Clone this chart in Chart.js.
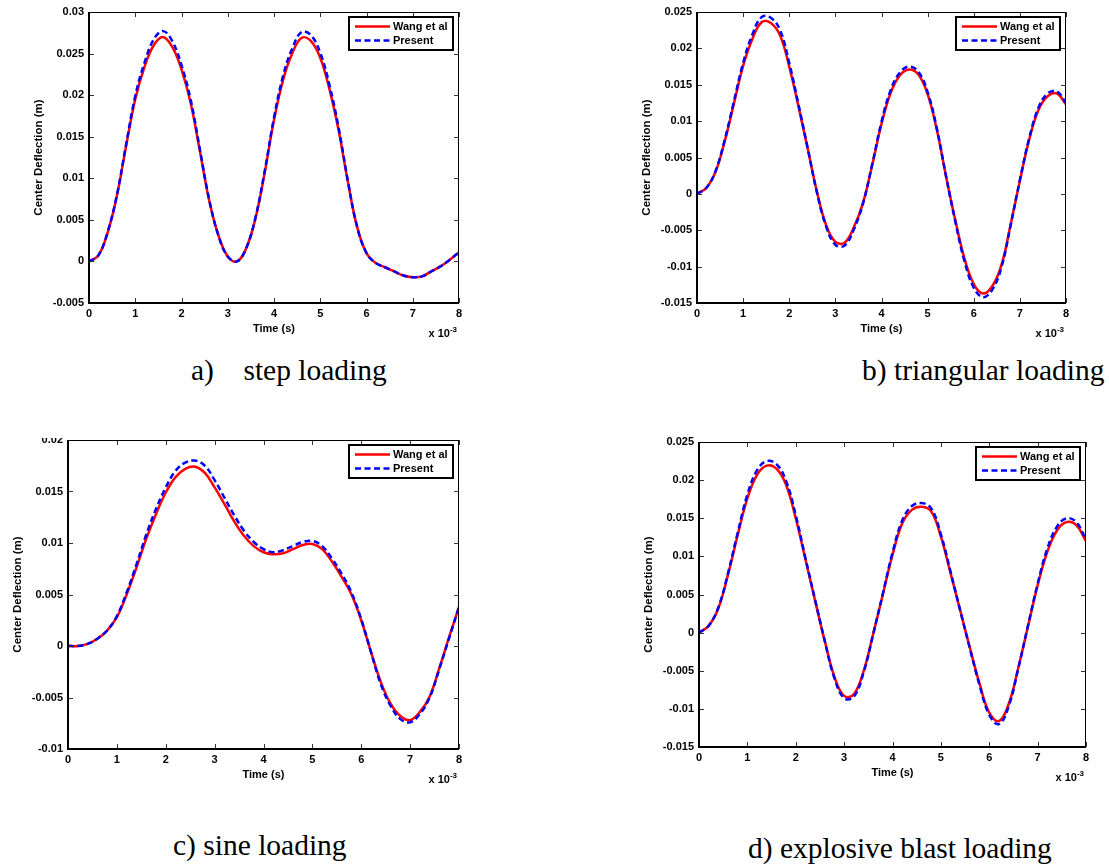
<!DOCTYPE html>
<html>
<head>
<meta charset="utf-8">
<title>Center deflection under four loadings</title>
<script src="https://cdn.jsdelivr.net/npm/chart.js@4.4.0/dist/chart.umd.min.js"></script>
<style>
  body { margin: 0; background: #fff; width: 1109px; height: 866px; position: relative; overflow: hidden; }
  canvas { position: absolute; }
  .caption {
    position: absolute;
    font-family: "Liberation Serif", "Times New Roman", serif;
    font-size: 30px;
    line-height: 30px;
    white-space: pre;
    color: #000;
    transform: scaleX(0.983);
    transform-origin: left center;
  }
</style>
</head>
<body>
<canvas id="chartA"></canvas>
<canvas id="chartB"></canvas>
<canvas id="chartC"></canvas>
<canvas id="chartD"></canvas>

<div class="caption" style="left:191px; top:355px;">a)    step loading</div>
<div class="caption" style="left:862px; top:355px;">b) triangular loading</div>
<div class="caption" style="left:173px; top:830px;">c) sine loading</div>
<div class="caption" style="left:748px; top:833px;">d) explosive blast loading</div>

<script>
// time axis in ms (axis is labelled x 10^-3 s)
const timeMs = [0, 0.2, 0.4, 0.6, 0.8, 1, 1.2, 1.4, 1.6, 1.8, 2, 2.2, 2.4, 2.6, 2.8, 3, 3.2, 3.4, 3.6, 3.8,
                4, 4.2, 4.4, 4.6, 4.8, 5, 5.2, 5.4, 5.6, 5.8, 6, 6.2, 6.4, 6.6, 6.8, 7, 7.2, 7.4, 7.6, 7.8, 8];

const seriesNames = ['Wang et al', 'Present'];
const timeTicks = ['0', '1', '2', '3', '4', '5', '6', '7', '8'];

// a) step loading, center deflection (m)
const stepWang = [0, 0.0007, 0.0034, 0.0078, 0.0138, 0.0195, 0.0234, 0.0260, 0.0270, 0.0258,
                  0.0231, 0.0190, 0.0132, 0.0073, 0.0031, 0.0006, 0.0000, 0.0016, 0.0052, 0.0107,
                  0.0170, 0.0219, 0.0251, 0.0269, 0.0265, 0.0245, 0.0207, 0.0157, 0.0095, 0.0041,
                  0.0010, -0.0002, -0.0007, -0.0012, -0.0017, -0.0019, -0.0018, -0.0012, -0.0006, 0.0002, 0.0011];
const stepPresent = [0, 0.0007, 0.0035, 0.0079, 0.0140, 0.0199, 0.0239, 0.0267, 0.0277, 0.0265,
                     0.0236, 0.0194, 0.0134, 0.0074, 0.0031, 0.0006, 0.0000, 0.0016, 0.0053, 0.0109,
                     0.0173, 0.0224, 0.0257, 0.0276, 0.0272, 0.0251, 0.0212, 0.0160, 0.0096, 0.0041,
                     0.0010, -0.0002, -0.0007, -0.0012, -0.0017, -0.0019, -0.0018, -0.0012, -0.0006, 0.0002, 0.0011];

// b) triangular loading
const triWang = [0, 0.0008, 0.0030, 0.0072, 0.0124, 0.0176, 0.0213, 0.0236, 0.0235, 0.0218,
                 0.0175, 0.0120, 0.0062, 0.0003, -0.0043, -0.0066, -0.0067, -0.0046, -0.0012, 0.0040,
                 0.0096, 0.0139, 0.0163, 0.0171, 0.0164, 0.0137, 0.0088, 0.0024, -0.0036, -0.0089,
                 -0.0124, -0.0137, -0.0127, -0.0098, -0.0042, 0.0018, 0.0074, 0.0115, 0.0134, 0.0138, 0.0123];
const triPresent = [0, 0.0008, 0.0031, 0.0074, 0.0127, 0.0180, 0.0219, 0.0243, 0.0242, 0.0225,
                    0.0180, 0.0123, 0.0063, 0.0002, -0.0045, -0.0070, -0.0071, -0.0049, -0.0013, 0.0041,
                    0.0099, 0.0143, 0.0167, 0.0175, 0.0168, 0.0140, 0.0090, 0.0024, -0.0038, -0.0093,
                    -0.0129, -0.0142, -0.0132, -0.0101, -0.0043, 0.0019, 0.0076, 0.0118, 0.0138, 0.0141, 0.0125];

// c) sine loading
const sineWang = [0, 0.0000, 0.0002, 0.0007, 0.0015, 0.0028, 0.0050, 0.0076, 0.0104, 0.0128,
                  0.0149, 0.0164, 0.0172, 0.0174, 0.0168, 0.0154, 0.0138, 0.0121, 0.0107, 0.0097,
                  0.0091, 0.0089, 0.0090, 0.0094, 0.0098, 0.0099, 0.0094, 0.0082, 0.0067, 0.0050,
                  0.0025, -0.0006, -0.0035, -0.0056, -0.0068, -0.0072, -0.0064, -0.0049, -0.0021, 0.0009, 0.0038];
const sinePresent = [0, 0.0000, 0.0002, 0.0007, 0.0015, 0.0029, 0.0052, 0.0079, 0.0108, 0.0133,
                     0.0154, 0.0170, 0.0178, 0.0180, 0.0175, 0.0161, 0.0144, 0.0127, 0.0112, 0.0101,
                     0.0094, 0.0091, 0.0093, 0.0097, 0.0101, 0.0102, 0.0097, 0.0085, 0.0070, 0.0052,
                     0.0026, -0.0006, -0.0037, -0.0058, -0.0071, -0.0074, -0.0066, -0.0050, -0.0022, 0.0008, 0.0038];

// d) explosive blast loading
const blastWang = [0, 0.0009, 0.0032, 0.0076, 0.0128, 0.0176, 0.0207, 0.0219, 0.0215, 0.0194,
                   0.0150, 0.0096, 0.0042, -0.0011, -0.0058, -0.0083, -0.0081, -0.0051, -0.0002, 0.0050,
                   0.0102, 0.0143, 0.0161, 0.0165, 0.0159, 0.0126, 0.0078, 0.0029, -0.0020, -0.0067,
                   -0.0105, -0.0116, -0.0094, -0.0046, 0.0008, 0.0062, 0.0106, 0.0134, 0.0145, 0.0141, 0.0120];
const blastPresent = [0, 0.0009, 0.0033, 0.0078, 0.0131, 0.0181, 0.0213, 0.0225, 0.0221, 0.0199,
                      0.0154, 0.0098, 0.0043, -0.0011, -0.0060, -0.0086, -0.0084, -0.0053, -0.0002, 0.0051,
                      0.0105, 0.0147, 0.0166, 0.0170, 0.0163, 0.0129, 0.0080, 0.0029, -0.0021, -0.0069,
                      -0.0108, -0.0120, -0.0097, -0.0047, 0.0009, 0.0064, 0.0110, 0.0139, 0.0150, 0.0145, 0.0122];

// where each axes box sits on the page
const panels = [
  { canvas: 'chartA', wang: stepWang,  present: stepPresent,  yMin: -0.005, yMax: 0.03,
    area: { left: 89,  top: 12,  right: 459,  bottom: 303 }, clip: 0 },
  { canvas: 'chartB', wang: triWang,   present: triPresent,   yMin: -0.015, yMax: 0.025,
    area: { left: 697, top: 12,  right: 1066, bottom: 303 }, clip: 0 },
  { canvas: 'chartC', wang: sineWang,  present: sinePresent,  yMin: -0.01,  yMax: 0.02,
    area: { left: 68,  top: 440, right: 459,  bottom: 749 }, clip: 10 },
  { canvas: 'chartD', wang: blastWang, present: blastPresent, yMin: -0.015, yMax: 0.025,
    area: { left: 699, top: 442, right: 1086, bottom: 747 }, clip: 0 }
];

const AXIS_FONT = '"Liberation Sans", Arial, Helvetica, sans-serif';
const Y_W = 70, PAD_T = 12, PAD_R = 20, X_H = 42;

function toPoints(vals) {
  return vals.map((v, i) => ({ x: timeMs[i], y: v }));
}

function line(ctx, x1, y1, x2, y2) {
  ctx.beginPath(); ctx.moveTo(x1, y1); ctx.lineTo(x2, y2); ctx.stroke();
}

// MATLAB style box: inward ticks, axes frame, boxed legend and the x 10^-3 multiplier
const matlabAxes = {
  id: 'matlabAxes',
  afterDatasetsDraw(chart) {
    const { ctx, chartArea: a, scales: { x, y } } = chart;
    ctx.save();

    ctx.strokeStyle = '#333';
    ctx.lineWidth = 1;
    const tl = 5;
    x.ticks.forEach(t => {
      const px = Math.round(x.getPixelForValue(t.value)) + 0.5;
      line(ctx, px, a.bottom, px, a.bottom - tl);
      line(ctx, px, a.top, px, a.top + tl);
    });
    y.ticks.forEach(t => {
      const py = Math.round(y.getPixelForValue(t.value)) + 0.5;
      line(ctx, a.left, py, a.left + tl, py);
      line(ctx, a.right, py, a.right - tl, py);
    });

    ctx.strokeStyle = '#000';
    ctx.lineWidth = 1;
    line(ctx, a.left, a.top + 0.5, a.right, a.top + 0.5);
    line(ctx, a.right - 0.5, a.top, a.right - 0.5, a.bottom);
    ctx.lineWidth = 2;
    line(ctx, a.left, a.bottom, a.right, a.bottom);
    line(ctx, a.left, a.top, a.left, a.bottom + 1);

    // legend
    const lw = 104, lh = 33;
    const lx = a.right - 6 - lw, ly = a.top + 5;
    ctx.fillStyle = '#fff';
    ctx.fillRect(lx, ly, lw, lh);
    ctx.lineWidth = 2;
    ctx.strokeRect(lx, ly, lw, lh);
    ctx.font = 'bold 11px ' + AXIS_FONT;
    ctx.textBaseline = 'middle';
    ctx.textAlign = 'left';
    chart.data.datasets.forEach((ds, i) => {
      const ry = ly + 9.5 + i * 14;
      ctx.strokeStyle = ds.borderColor;
      ctx.lineWidth = ds.borderWidth;
      ctx.setLineDash(ds.borderDash || []);
      line(ctx, lx + 6, ry, lx + 41, ry);
      ctx.setLineDash([]);
      ctx.fillStyle = '#000';
      ctx.fillText(ds.label, lx + 44, ry + 0.5);
    });

    // exponent under the right end of the time axis
    ctx.fillStyle = '#000';
    ctx.textBaseline = 'alphabetic';
    ctx.font = 'bold 8px ' + AXIS_FONT;
    const supW = ctx.measureText('-3').width;
    ctx.font = 'bold 11px ' + AXIS_FONT;
    const baseW = ctx.measureText('x 10').width;
    const ex = a.right - 2 - supW - baseW;
    ctx.fillText('x 10', ex, a.bottom + 34);
    ctx.font = 'bold 8px ' + AXIS_FONT;
    ctx.fillText('-3', ex + baseW, a.bottom + 29);

    ctx.restore();
  }
};

function makeChart(p) {
  const a = p.area;
  const el = document.getElementById(p.canvas);
  el.width = Y_W + (a.right - a.left) + PAD_R;
  el.height = PAD_T + (a.bottom - a.top) + X_H;
  el.style.left = (a.left - Y_W) + 'px';
  el.style.top = (a.top - PAD_T) + 'px';
  if (p.clip) el.style.clipPath = 'inset(' + p.clip + 'px 0 0 0)';

  return new Chart(el, {
    type: 'line',
    data: {
      datasets: [
        {
          label: seriesNames[0],
          data: toPoints(p.wang),
          borderColor: '#ff0000',
          borderWidth: 2.5,
          pointRadius: 0,
          tension: 0.4,
          order: 2
        },
        {
          label: seriesNames[1],
          data: toPoints(p.present),
          borderColor: '#0000ff',
          borderWidth: 2.5,
          borderDash: [6, 3.5],
          pointRadius: 0,
          tension: 0.4,
          order: 1
        }
      ]
    },
    options: {
      responsive: false,
      maintainAspectRatio: false,
      animation: false,
      events: [],
      layout: { padding: { left: 0, top: PAD_T, right: PAD_R, bottom: 0 } },
      plugins: { legend: { display: false }, tooltip: { enabled: false } },
      scales: {
        x: {
          type: 'linear',
          min: 0,
          max: 8,
          grid: { display: false, drawTicks: false },
          border: { display: false },
          ticks: {
            stepSize: 1,
            autoSkip: false,
            padding: 4,
            color: '#000',
            font: { family: AXIS_FONT, size: 11, weight: 'bold' },
            callback: (v, i) => timeTicks[i]
          },
          title: {
            display: true,
            text: 'Time (s)',
            color: '#000',
            font: { family: AXIS_FONT, size: 11, weight: 'bold' },
            padding: { top: 0, bottom: 9 }
          },
          afterFit: s => { s.height = X_H; s.paddingLeft = 0; s.paddingRight = 0; }
        },
        y: {
          min: p.yMin,
          max: p.yMax,
          grid: { display: false, drawTicks: false },
          border: { display: false },
          ticks: {
            stepSize: 0.005,
            padding: 5,
            color: '#000',
            font: { family: AXIS_FONT, size: 11, weight: 'bold' },
            callback: v => String(parseFloat(Number(v).toFixed(4)))
          },
          title: {
            display: true,
            text: 'Center Deflection (m)',
            color: '#000',
            font: { family: AXIS_FONT, size: 11.5, weight: 'bold' },
            padding: { top: 13, bottom: 0 }
          },
          afterFit: s => { s.width = Y_W; s.paddingTop = 0; s.paddingBottom = 0; }
        }
      }
    },
    plugins: [matlabAxes]
  });
}

panels.forEach(makeChart);
</script>
</body>
</html>
